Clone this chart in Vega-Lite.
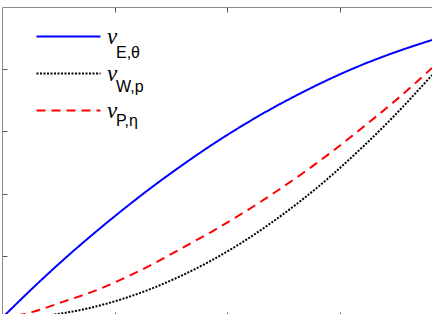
{
  "$schema": "https://vega.github.io/schema/vega-lite/v6.json",
  "width": 430,
  "height": 307,
  "autosize": {"type": "none"},
  "padding": {"left": 2, "top": 7, "right": 0, "bottom": 0},
  "background": "white",
  "config": {
    "view": {"stroke": null},
    "axis": {"domainColor": "#8a8a8a", "domainWidth": 1, "tickColor": "#555555", "tickWidth": 1, "labels": false, "grid": false, "title": null}
  },
  "data": {
    "values": [
      {"curve": "E", "sub": "E,θ", "x": 0, "y": 0},
      {"curve": "E", "sub": "E,θ", "x": 0.266, "y": 0.094},
      {"curve": "E", "sub": "E,θ", "x": 0.532, "y": 0.183},
      {"curve": "E", "sub": "E,θ", "x": 0.799, "y": 0.267},
      {"curve": "E", "sub": "E,θ", "x": 1.065, "y": 0.346},
      {"curve": "E", "sub": "E,θ", "x": 1.331, "y": 0.421},
      {"curve": "E", "sub": "E,θ", "x": 1.597, "y": 0.491},
      {"curve": "E", "sub": "E,θ", "x": 1.863, "y": 0.557},
      {"curve": "E", "sub": "E,θ", "x": 2.130, "y": 0.618},
      {"curve": "E", "sub": "E,θ", "x": 2.396, "y": 0.674},
      {"curve": "E", "sub": "E,θ", "x": 2.662, "y": 0.725},
      {"curve": "E", "sub": "E,θ", "x": 2.928, "y": 0.772},
      {"curve": "E", "sub": "E,θ", "x": 3.194, "y": 0.814},
      {"curve": "E", "sub": "E,θ", "x": 3.461, "y": 0.851},
      {"curve": "E", "sub": "E,θ", "x": 3.815, "y": 0.894},
      {"curve": "W", "sub": "W,p", "x": 0, "y": 0},
      {"curve": "W", "sub": "W,p", "x": 0.266, "y": 0.004},
      {"curve": "W", "sub": "W,p", "x": 0.532, "y": 0.015},
      {"curve": "W", "sub": "W,p", "x": 0.799, "y": 0.034},
      {"curve": "W", "sub": "W,p", "x": 1.065, "y": 0.061},
      {"curve": "W", "sub": "W,p", "x": 1.331, "y": 0.095},
      {"curve": "W", "sub": "W,p", "x": 1.597, "y": 0.137},
      {"curve": "W", "sub": "W,p", "x": 1.863, "y": 0.186},
      {"curve": "W", "sub": "W,p", "x": 2.130, "y": 0.243},
      {"curve": "W", "sub": "W,p", "x": 2.396, "y": 0.308},
      {"curve": "W", "sub": "W,p", "x": 2.662, "y": 0.380},
      {"curve": "W", "sub": "W,p", "x": 2.928, "y": 0.460},
      {"curve": "W", "sub": "W,p", "x": 3.194, "y": 0.548},
      {"curve": "W", "sub": "W,p", "x": 3.461, "y": 0.643},
      {"curve": "W", "sub": "W,p", "x": 3.815, "y": 0.781},
      {"curve": "P", "sub": "P,η", "x": 0, "y": 0},
      {"curve": "P", "sub": "P,η", "x": 0.266, "y": 0.019},
      {"curve": "P", "sub": "P,η", "x": 0.532, "y": 0.051},
      {"curve": "P", "sub": "P,η", "x": 0.799, "y": 0.084},
      {"curve": "P", "sub": "P,η", "x": 1.065, "y": 0.125},
      {"curve": "P", "sub": "P,η", "x": 1.331, "y": 0.172},
      {"curve": "P", "sub": "P,η", "x": 1.597, "y": 0.225},
      {"curve": "P", "sub": "P,η", "x": 1.863, "y": 0.278},
      {"curve": "P", "sub": "P,η", "x": 2.130, "y": 0.336},
      {"curve": "P", "sub": "P,η", "x": 2.396, "y": 0.398},
      {"curve": "P", "sub": "P,η", "x": 2.662, "y": 0.464},
      {"curve": "P", "sub": "P,η", "x": 2.928, "y": 0.535},
      {"curve": "P", "sub": "P,η", "x": 3.194, "y": 0.611},
      {"curve": "P", "sub": "P,η", "x": 3.461, "y": 0.690},
      {"curve": "P", "sub": "P,η", "x": 3.815, "y": 0.804}
    ]
  },
  "layer": [
    {
      "mark": {"type": "line", "clip": true, "strokeWidth": 2, "interpolate": "monotone"},
      "encoding": {
        "x": {"field": "x", "type": "quantitative", "scale": {"domain": [0, 3.815], "nice": false, "zero": false},
              "axis": {"orient": "top", "values": [1, 2, 3], "tickSize": -5, "domain": true, "labels": false, "title": null}},
        "y": {"field": "y", "type": "quantitative", "scale": {"domain": [0.0129, 1], "nice": false, "zero": false},
              "axis": {"orient": "left", "values": [0.2, 0.4, 0.6, 0.8], "tickSize": -5, "domain": true, "labels": false, "title": null}},
        "color": {"field": "curve", "type": "nominal", "scale": {"domain": ["E", "W", "P"], "range": ["#0000ff", "#000000", "#ff0000"]},
                  "legend": {"title": null, "orient": "none", "legendX": 55, "legendY": 18, "symbolType": "M-4,0H4", "symbolSize": 256, "symbolStrokeWidth": 2, "rowPadding": 13, "labelExpr": "'ν'", "labelFont": "Liberation Serif", "labelFontStyle": "italic", "labelFontSize": 23, "labelOffset": 27, "labelBaseline": "middle", "labelColor": "black", "padding": 0}},
        "strokeDash": {"field": "curve", "type": "nominal", "scale": {"domain": ["E", "W", "P"], "range": [[1, 0], [2, 1.5], [9, 6]]},
                  "legend": {"title": null, "orient": "none", "legendX": 55, "legendY": 18, "symbolType": "M-4,0H4", "symbolSize": 256, "symbolStrokeWidth": 2, "rowPadding": 13, "labelExpr": "'ν'", "labelFont": "Liberation Serif", "labelFontStyle": "italic", "labelFontSize": 23, "labelOffset": 27, "labelBaseline": "middle", "labelColor": "black", "padding": 0}}
      }
    },
    {
      "mark": {"type": "point", "opacity": 0},
      "encoding": {
        "x": {"field": "x", "type": "quantitative", "scale": {"domain": [0, 3.815], "nice": false, "zero": false},
              "axis": {"orient": "bottom", "values": [1, 2, 3], "tickSize": -6, "offset": 4, "domain": false, "labels": false, "title": null}},
        "y": {"field": "y", "type": "quantitative", "axis": null},
        "shape": {"field": "sub", "type": "nominal", "scale": {"domain": ["E,θ", "W,p", "P,η"]},
                  "legend": {"title": null, "orient": "none", "legendX": 98, "legendY": 38, "symbolOpacity": 0, "symbolSize": 1, "symbolStrokeWidth": 0, "rowPadding": 18, "labelFont": "Liberation Sans", "labelFontSize": 16, "labelOffset": 0, "labelColor": "black", "padding": 0}}
      }
    }
  ],
  "resolve": {"axis": {"x": "independent", "y": "independent"}}
}
